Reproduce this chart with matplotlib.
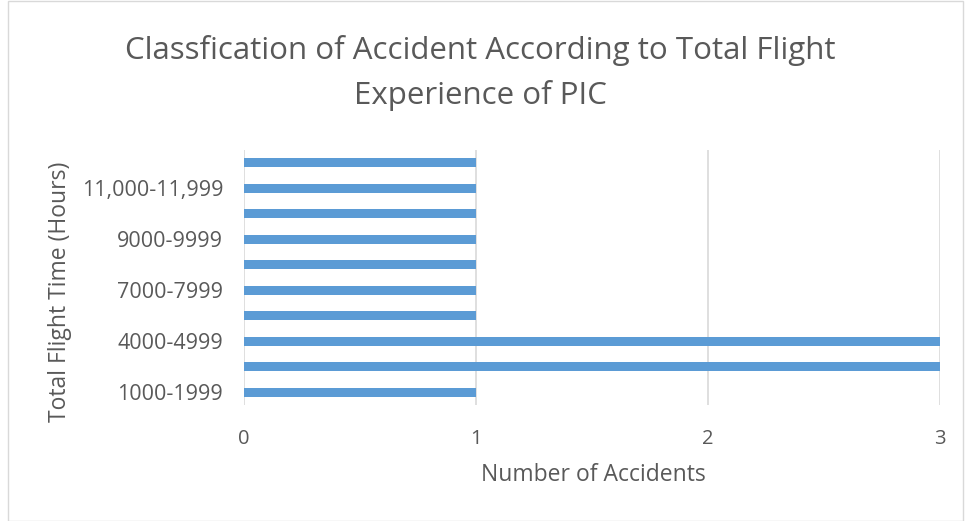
import matplotlib
matplotlib.use("Agg")
import matplotlib.pyplot as plt
from matplotlib.patches import Rectangle

categories = ["1000-1999", "3000-3999", "4000-4999", "6000-6999", "7000-7999",
              "8000-8999", "9000-9999", "10,000-10,999", "11,000-11,999", "12,000-12,999"]
accidents = [1, 3, 3, 1, 1, 1, 1, 1, 1, 1]
x_ticks = [0, 1, 2, 3]

title = "Classfication of Accident According to Total Flight\nExperience of PIC"
xlabel = "Number of Accidents"
ylabel = "Total Flight Time (Hours)"

plt.rcParams['font.family'] = ['Open Sans', 'DejaVu Sans']
txt = "#595959"
bar_color = "#5B9BD5"
grid_color = "#D9D9D9"

fig = plt.figure(figsize=(9.65, 5.21), dpi=100)
fig.patches.append(Rectangle((0.008, 0.0), 0.99, 0.998, transform=fig.transFigure,
                             fill=False, edgecolor="#D9D9D9", linewidth=1.0))

ax = fig.add_axes([244/965, 1-405/521, 696/965, 255/521])
ypos = list(range(len(categories)))
ax.barh(ypos, accidents, height=0.36, color=bar_color, zorder=3)
ax.set_xlim(0, 3)
ax.set_ylim(-0.5, len(categories) - 0.5)
ax.set_xticks(x_ticks)
ax.set_xticklabels([str(t) for t in x_ticks], fontsize=14.5, color=txt)
ax.set_yticks(ypos)
ax.set_yticklabels([c if i % 2 == 0 else "" for i, c in enumerate(categories)],
                   fontsize=15.5, color=txt)
ax.tick_params(axis='both', length=0)
ax.tick_params(axis='x', pad=17)
ax.tick_params(axis='y', pad=15)
ax.grid(axis='x', color=grid_color, linewidth=1.2, zorder=0)
for s in ax.spines.values():
    s.set_visible(False)

fig.text(480/965, 1-73/521, title, ha='center', va='center', fontsize=22.5,
         color=txt, linespacing=1.55)
fig.text(593/965, 1-475/521, xlabel, ha='center', va='center', fontsize=16.5, color=txt)
fig.text(60/965, 1-292/521, ylabel, ha='center', va='center', fontsize=16.5,
         color=txt, rotation=90)

fig.savefig("out.png", dpi=100, facecolor="white")
